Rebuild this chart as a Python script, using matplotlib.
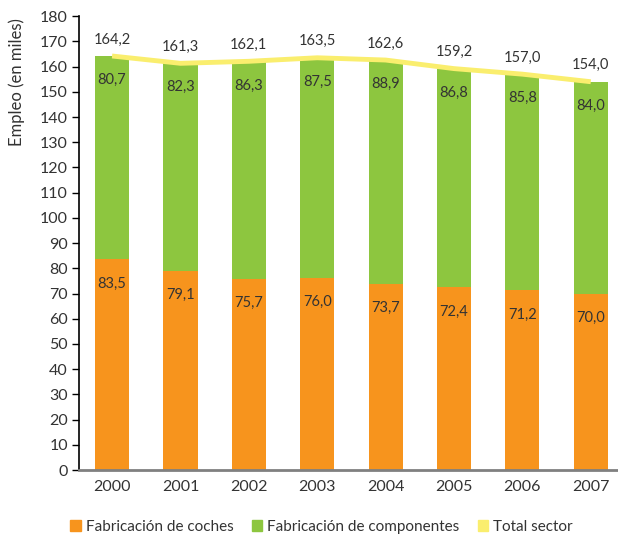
import matplotlib
matplotlib.use("Agg")
import matplotlib.pyplot as plt
from matplotlib.patches import Patch

years = ["2000", "2001", "2002", "2003", "2004", "2005", "2006", "2007"]
coches = [83.5, 79.1, 75.7, 76.0, 73.7, 72.4, 71.2, 70.0]
componentes = [80.7, 82.3, 86.3, 87.5, 88.9, 86.8, 85.8, 84.0]
total = [164.2, 161.3, 162.1, 163.5, 162.6, 159.2, 157.0, 154.0]

c_orange = "#F7941D"
c_green = "#8DC63F"
c_yellow = "#FAEE6E"
txt = "#333333"

plt.rcParams["font.family"] = ["Lato", "DejaVu Sans"]

def fmt(v):
    return f"{v:.1f}".replace(".", ",")

fig = plt.figure(figsize=(6.18, 5.39), dpi=100)
ax = fig.add_axes([0.128, 0.128, 0.87, 0.842])

x = list(range(len(years)))
ax.bar(x, coches, width=0.5, color=c_orange, zorder=2)
ax.bar(x, componentes, width=0.5, bottom=coches, color=c_green, zorder=2)
ax.plot(x, total, color=c_yellow, lw=3.5, zorder=3, solid_capstyle="butt")

lab_font = dict(fontsize=10.5, color=txt, ha="center", va="center")
for i in x:
    ax.text(i, coches[i] - 9.5, fmt(coches[i]), zorder=4, **lab_font)
    ax.text(i, coches[i] + componentes[i] - 9.5, fmt(componentes[i]), zorder=4, **lab_font)
    ax.text(i, total[i] + 6.5, fmt(total[i]), zorder=4, **lab_font)

ax.set_xlim(-0.482, 7.38)
ax.set_ylim(0, 180)
ax.set_yticks(range(0, 181, 10))
ax.set_xticks(x)
ax.set_xticklabels(years)
ax.tick_params(axis="y", direction="out", length=5, width=1, color="black", labelsize=11.5, labelcolor=txt, pad=3)
ax.tick_params(axis="x", length=0, labelsize=11.5, labelcolor=txt, pad=7)
for s in ["top", "right"]:
    ax.spines[s].set_visible(False)
ax.spines["left"].set_color("black")
ax.spines["left"].set_linewidth(1.2)
ax.spines["bottom"].set_color("#808080")
ax.spines["bottom"].set_linewidth(2)
ax.spines["bottom"].set_zorder(5)

ax.set_ylabel("Empleo (en miles)", fontsize=12, color=txt)
ax.yaxis.set_label_coords(-0.1, 0.855)

handles = [Patch(color=c_orange), Patch(color=c_green), Patch(color=c_yellow)]
labels = ["Fabricación de coches", "Fabricación de componentes", "Total sector"]
fig.legend(handles, labels, loc="center", bbox_to_anchor=(0.52, 0.022), ncol=3, frameon=False,
           fontsize=11, handlelength=0.7, handleheight=0.7, handletextpad=0.3, columnspacing=1.2,
           labelcolor=txt)

fig.savefig("out.png", dpi=100)
